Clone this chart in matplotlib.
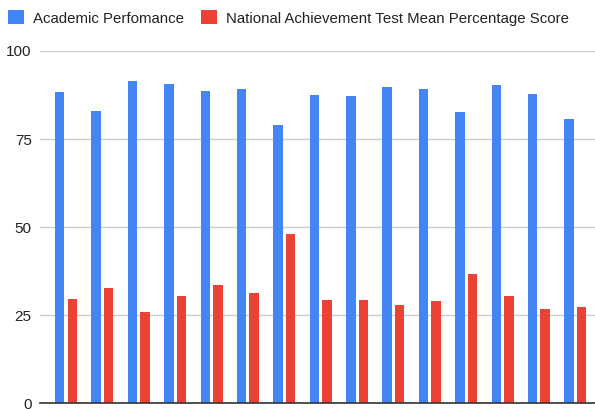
import numpy as np
import matplotlib
matplotlib.use('Agg')
import matplotlib.pyplot as plt

plt.rcParams['font.family'] = ['Liberation Sans', 'DejaVu Sans']

series_names = ['Academic Perfomance', 'National Achievement Test Mean Percentage Score']
academic = [88.3, 83.0, 91.6, 90.7, 88.7, 89.2, 79.1, 87.6, 87.1, 89.9, 89.2, 82.7, 90.3, 87.9, 80.8]
nat_score = [29.6, 32.8, 25.9, 30.5, 33.6, 31.3, 48.1, 29.3, 29.3, 27.8, 28.9, 36.6, 30.5, 26.8, 27.2]
y_ticks = [0, 25, 50, 75, 100]

BLUE = '#4285F4'
RED = '#EA4335'

fig = plt.figure(figsize=(5.95, 4.09), dpi=100)
ax = fig.add_axes([40 / 595, 5.7 / 409, 555 / 595, 352.3 / 409])

x = np.arange(len(academic))
w = 0.26
ax.bar(x - 0.172, academic, width=w, color=BLUE, label=series_names[0], zorder=3)
ax.bar(x + 0.172, nat_score, width=w, color=RED, label=series_names[1], zorder=3)

ax.set_ylim(0, 100)
ax.set_xlim(-0.714, 14.54)
ax.set_yticks(y_ticks)
ax.set_xticks([])
ax.yaxis.grid(True, color='#cccccc', linewidth=1, zorder=0)
ax.tick_params(axis='y', length=0, pad=6, labelsize=11, labelcolor='#222222')
for s in ['top', 'right', 'left']:
    ax.spines[s].set_visible(False)
ax.spines['bottom'].set_color('#333333')
ax.spines['bottom'].set_linewidth(1.2)
ax.spines['bottom'].set_zorder(4)

leg = fig.legend(loc='upper left', bbox_to_anchor=(-0.004, 1.0), ncol=2, frameon=False,
                 fontsize=10.8, handlelength=1.05, handleheight=1.05, handletextpad=0.6,
                 columnspacing=1.15, borderaxespad=0.3)
for t in leg.get_texts():
    t.set_color('#222222')

fig.savefig('out.png', dpi=100)
